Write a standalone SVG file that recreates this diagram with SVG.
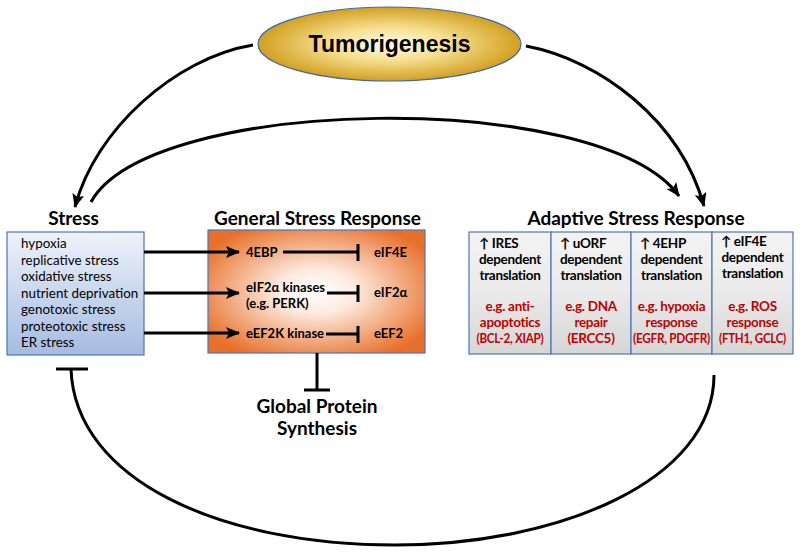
<svg xmlns="http://www.w3.org/2000/svg" width="800" height="555" viewBox="0 0 800 555">
<defs>
<radialGradient id="gEll" cx="50%" cy="50%" r="50%">
<stop offset="0" stop-color="#fffbe8"/>
<stop offset="0.45" stop-color="#f6df90"/>
<stop offset="1" stop-color="#d2a020"/>
</radialGradient>
<linearGradient id="gStress" x1="0" y1="0" x2="0" y2="1">
<stop offset="0" stop-color="#eef3fb"/>
<stop offset="1" stop-color="#a4bbe0"/>
</linearGradient>
<radialGradient id="gGsr" cx="50%" cy="50%" r="60%">
<stop offset="0" stop-color="#ffffff"/>
<stop offset="0.3" stop-color="#fdeadf"/>
<stop offset="1" stop-color="#e8702a"/>
</radialGradient>
<linearGradient id="gCell" x1="0" y1="0" x2="0" y2="1">
<stop offset="0" stop-color="#f3f3f3"/>
<stop offset="0.5" stop-color="#eaeaea"/>
<stop offset="1" stop-color="#d6d6d6"/>
</linearGradient>
<marker id="ah" markerUnits="userSpaceOnUse" markerWidth="14" markerHeight="12" refX="13" refY="6" orient="auto">
<path d="M0,0 L14,6 L0,12 L3,6 Z" fill="#000"/>
</marker>
<style>
.t{font-family:Lato,"Open Sans","DejaVu Sans",sans-serif;fill:#000}
.b{font-weight:bold}
.h{font-size:19px;font-weight:bold;text-anchor:middle}
.lst{font-size:13.4px}
.g{font-size:13px;font-weight:bold}
.c{font-size:13.5px;font-weight:bold;text-anchor:middle;letter-spacing:-0.3px}
.cl{font-size:13.5px;font-weight:bold;letter-spacing:-0.3px}
.r{fill:#c00000}
.ln{stroke:#000;stroke-width:3;fill:none}
.arc{stroke:#000;stroke-width:3;fill:none}
.box{stroke:#4f74b8;stroke-width:1.2}
</style>
</defs>

<g id="tumorigenesis">
<ellipse cx="389.5" cy="44" rx="131.5" ry="37" fill="url(#gEll)" stroke="#3d6aa8" stroke-width="1.2"/>
<text x="389.5" y="52" text-anchor="middle" font-family="'Liberation Sans',Arial,sans-serif" font-weight="bold" font-size="23">Tumorigenesis</text>
</g>

<g id="stress">
<text class="t h" x="73.5" y="225">Stress</text>
<rect class="box" x="7" y="232" width="137" height="123" fill="url(#gStress)"/>
<text class="t lst" x="21" y="248">hypoxia</text>
<text class="t lst" x="21" y="265">replicative stress</text>
<text class="t lst" x="21" y="281">oxidative stress</text>
<text class="t lst" x="21" y="298">nutrient deprivation</text>
<text class="t lst" x="21" y="314">genotoxic stress</text>
<text class="t lst" x="21" y="331">proteotoxic stress</text>
<text class="t lst" x="21" y="347">ER stress</text>
</g>

<g id="general-stress-response">
<text class="t h" x="317.5" y="225">General Stress Response</text>
<rect class="box" x="208" y="230" width="217" height="123" fill="url(#gGsr)"/>
<text class="t g" x="246" y="257">4EBP</text>
<text class="t g" x="374" y="257">eIF4E</text>
<text class="t g" x="246" y="292">eIF2α kinases</text>
<text class="t g" x="246" y="308">(e.g. PERK)</text>
<text class="t g" x="374" y="297">eIF2α</text>
<text class="t g" x="246" y="338">eEF2K kinase</text>
<text class="t g" x="374" y="338">eEF2</text>
</g>

<g id="global-protein-synthesis">
<text class="t b" x="317" y="413" font-size="19" text-anchor="middle">Global Protein</text>
<text class="t b" x="317" y="435" font-size="19" text-anchor="middle">Synthesis</text>
</g>

<g id="adaptive-stress-response">
<text class="t h" x="636" y="225">Adaptive Stress Response</text>
<rect x="469" y="232" width="82" height="122" fill="url(#gCell)" class="box"/>
<rect x="551" y="232" width="80" height="122" fill="url(#gCell)" class="box"/>
<rect x="631" y="232" width="81" height="122" fill="url(#gCell)" class="box"/>
<rect x="712" y="232" width="81" height="122" fill="url(#gCell)" class="box"/>
<g id="ires">
<text class="t cl" x="479" y="248">↑ IRES</text>
<text class="t c" x="510" y="264">dependent</text>
<text class="t c" x="510" y="280">translation</text>
<text class="t c r" x="510" y="311">e.g. anti-</text>
<text class="t c r" x="510" y="327">apoptotics</text>
<text class="t c r" x="510" y="343" textLength="67" lengthAdjust="spacingAndGlyphs">(BCL-2, XIAP)</text>
</g>
<g id="uorf">
<text class="t cl" x="560" y="248">↑ uORF</text>
<text class="t c" x="591" y="264">dependent</text>
<text class="t c" x="591" y="280">translation</text>
<text class="t c r" x="591" y="311">e.g. DNA</text>
<text class="t c r" x="591" y="327">repair</text>
<text class="t c r" x="591" y="343">(ERCC5)</text>
</g>
<g id="4ehp">
<text class="t cl" x="640" y="248">↑ 4EHP</text>
<text class="t c" x="671.5" y="264">dependent</text>
<text class="t c" x="671.5" y="280">translation</text>
<text class="t c r" x="671.5" y="311">e.g. hypoxia</text>
<text class="t c r" x="671.5" y="327">response</text>
<text class="t c r" x="671.5" y="343" textLength="77" lengthAdjust="spacingAndGlyphs">(EGFR, PDGFR)</text>
</g>
<g id="eif4e">
<text class="t cl" x="721" y="246">↑ eIF4E</text>
<text class="t c" x="752.5" y="262">dependent</text>
<text class="t c" x="752.5" y="278">translation</text>
<text class="t c r" x="752.5" y="311">e.g. ROS</text>
<text class="t c r" x="752.5" y="327">response</text>
<text class="t c r" x="752.5" y="343" textLength="67" lengthAdjust="spacingAndGlyphs">(FTH1, GCLC)</text>
</g>
</g>

<g id="connectors">
<path class="arc" d="M253,45 C175,58 95,130 75,207" marker-end="url(#ah)"/>
<path class="arc" d="M526,46 C600,60 680,120 704,206" marker-end="url(#ah)"/>
<path class="arc" d="M91,202 C150,95 600,88 679,196" marker-end="url(#ah)"/>
<line class="ln" x1="144" y1="252" x2="239" y2="252" marker-end="url(#ah)"/>
<line class="ln" x1="144" y1="293" x2="239" y2="293" marker-end="url(#ah)"/>
<line class="ln" x1="144" y1="333" x2="239" y2="333" marker-end="url(#ah)"/>
<path class="ln" d="M283,252 H358 M358,244 V261"/>
<path class="ln" d="M327,293 H358 M358,285 V302"/>
<path class="ln" d="M326,334 H358 M358,326 V343"/>
<path class="ln" d="M317,353 V390 M304,390 H330"/>
<path class="arc" stroke-width="2.6" d="M714,375 C714,480 560,545 395,545 C220,545 75,480 71,369"/>
<path class="ln" d="M56,369 H88"/>
</g>
</svg>
